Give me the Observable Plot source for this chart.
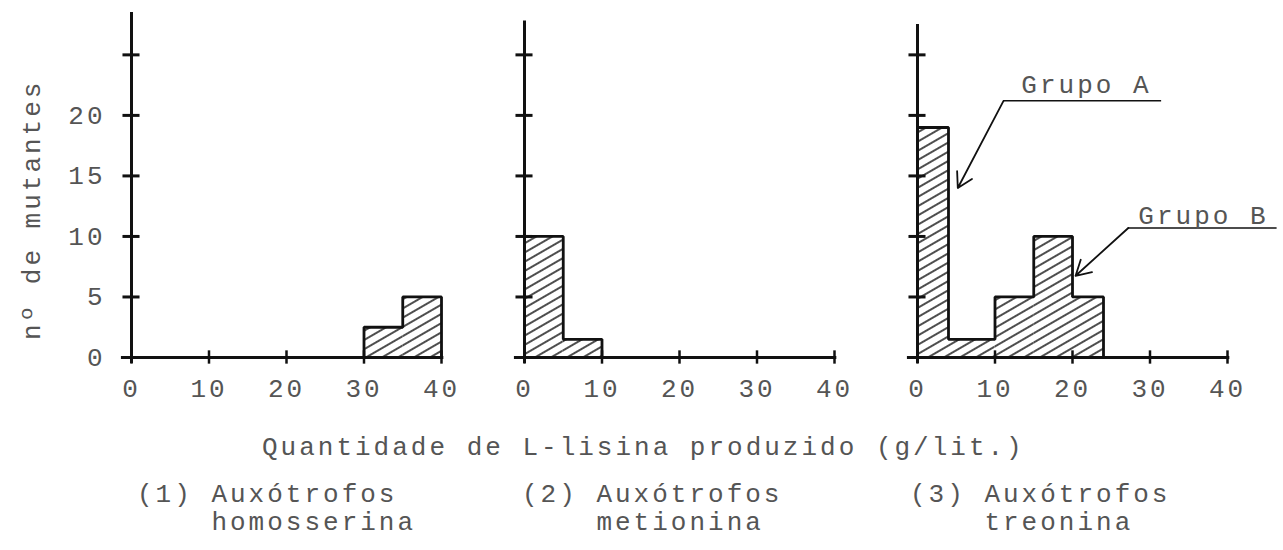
<!DOCTYPE html>
<html>
<head>
<meta charset="utf-8">
<script src="https://cdn.jsdelivr.net/npm/d3@7"></script>
<script src="https://cdn.jsdelivr.net/npm/@observablehq/plot@0.6"></script>
<style>
  html, body { margin: 0; padding: 0; background: #fff; }
  #wrap { position: relative; width: 1283px; height: 550px; font-family: "Liberation Mono", monospace; color: #555; }
  #wrap svg text { letter-spacing: 3px; }
  .t { position: absolute; font-size: 26px; letter-spacing: 3px; line-height: 28px; white-space: pre; }
</style>
</head>
<body>
<div id="wrap">
  <div id="chart"></div>
  <div class="t" style="left:262px; top:434px;">Quantidade de L-lisina produzido (g/lit.)</div>
  <div class="t" style="left:137px; top:481px;">(1) Auxótrofos
    homosserina</div>
  <div class="t" style="left:522px; top:481px;">(2) Auxótrofos
    metionina</div>
  <div class="t" style="left:910px; top:481px;">(3) Auxótrofos
    treonina</div>
</div>
<script>
// ---- data ----
const panels = ["1", "2", "3"];
// (1) homosserina
const binStart1 = [30, 35];
const binEnd1   = [35, 40];
const count1    = [2.5, 5];
// (2) metionina
const binStart2 = [0, 5];
const binEnd2   = [5, 10];
const count2    = [10, 1.5];
// (3) treonina
const binStart3 = [0, 4, 10, 15, 20];
const binEnd3   = [4, 10, 15, 20, 24];
const count3    = [19, 1.5, 5, 10, 5];

const xTicks = [0, 10, 20, 30, 40];
const yTicks = [5, 10, 15, 20, 25];
const yTickLabels = [0, 5, 10, 15, 20];
const axisTop = [28.5, 27.8, 27.5];
const yLabel = "nº de mutantes";

// annotations (panel 3), in data units
const annLabel  = ["Grupo A", "Grupo B"];
const annTextX  = [21.8, 36.9];
const annTextY  = [22.5, 11.7];
const annLineX1 = [11.1, 27.2];
const annLineX2 = [31.5, 46.4];
const annLineY  = [21.2, 10.7];
const annArrowX = [5.2, 20.4];
const annArrowY = [14, 6.75];

// ---- tables ----
const series = [[binStart1, binEnd1, count1], [binStart2, binEnd2, count2], [binStart3, binEnd3, count3]];
const bars = [];
const outline = [];
series.forEach(([s, e, c], i) => {
  const p = panels[i];
  s.forEach((v, j) => bars.push({panel: p, x1: v, x2: e[j], count: c[j]}));
  // stepped outline of the histogram (no inner dividing lines)
  outline.push({panel: p, x: s[0], y: 0});
  s.forEach((v, j) => {
    outline.push({panel: p, x: v, y: c[j]});
    outline.push({panel: p, x: e[j], y: c[j]});
  });
  outline.push({panel: p, x: e[e.length - 1], y: 0});
});
const xTickData = panels.flatMap(p => xTicks.map(v => ({panel: p, v})));
const yTickData = panels.flatMap(p => yTicks.map(v => ({panel: p, v})));
const axisData = panels.map((p, i) => ({panel: p, top: axisTop[i]}));
const ann = annLabel.map((l, i) => ({label: l, textX: annTextX[i], textY: annTextY[i],
  x1: annLineX1[i], x2: annLineX2[i], ly: annLineY[i], ax: annArrowX[i], ay: annArrowY[i]}));

const ink = "#111";
const txt = "#555";

const svg = Plot.plot({
  width: 1283,
  height: 410,
  marginLeft: 130,
  marginRight: 56,
  marginTop: 12,
  marginBottom: 53,
  style: {fontFamily: "Liberation Mono, monospace", fontSize: "26px", background: "#fff"},
  fx: {domain: panels, paddingInner: 0.212, paddingOuter: 0, axis: null},
  x: {domain: [0, 40], axis: null},
  y: {domain: [0, 28.5], axis: null},
  marks: [
    Plot.rectY(bars, {x1: "x1", x2: "x2", y: "count", fx: "panel", fill: "url(#hatch)"}),
    Plot.line(outline, {x: "x", y: "y", z: "panel", fx: "panel", stroke: ink, strokeWidth: 2.8, strokeLinejoin: "miter"}),
    Plot.ruleY(axisData, {y: 0, x1: -1.3, x2: 40.3, fx: "panel", stroke: ink, strokeWidth: 3}),
    Plot.ruleX(axisData, {x: 0, y1: -0.5, y2: "top", fx: "panel", stroke: ink, strokeWidth: 3}),
    Plot.ruleX(xTickData, {x: "v", y1: -0.55, y2: 0.55, fx: "panel", stroke: ink, strokeWidth: 2.5}),
    Plot.ruleY(yTickData, {y: "v", x1: -1.1, x2: 1.1, fx: "panel", stroke: ink, strokeWidth: 3}),
    Plot.text(xTickData, {x: "v", y: 0, dy: 31, text: d => String(d.v), fx: "panel", fontSize: 26, fill: txt}),
    Plot.text(yTickLabels, {x: 0, y: d => d, dx: -26, textAnchor: "end", text: d => String(d), fx: () => "1", fontSize: 26, fill: txt}),
    Plot.text([yLabel], {x: 0, y: 12.2, dx: -100, rotate: -90, text: d => d, fx: () => "1", fontSize: 26, fill: txt}),
    Plot.ruleY(ann, {y: "ly", x1: "x1", x2: "x2", fx: () => "3", stroke: ink, strokeWidth: 1.5}),
    Plot.arrow(ann, {x1: "x1", y1: "ly", x2: "ax", y2: "ay", fx: () => "3", stroke: ink, strokeWidth: 1.8, headLength: 14}),
    Plot.text(ann, {x: "textX", y: "textY", text: "label", fx: () => "3", fontSize: 26, fill: txt})
  ]
});

// hatch pattern
const NS = "http://www.w3.org/2000/svg";
const defs = document.createElementNS(NS, "defs");
const pat = document.createElementNS(NS, "pattern");
pat.setAttribute("id", "hatch");
pat.setAttribute("patternUnits", "userSpaceOnUse");
pat.setAttribute("width", "10");
pat.setAttribute("height", "8");
pat.setAttribute("patternTransform", "rotate(-30)");
const bg = document.createElementNS(NS, "rect");
bg.setAttribute("width", "10"); bg.setAttribute("height", "8"); bg.setAttribute("fill", "#fff");
const ln = document.createElementNS(NS, "line");
ln.setAttribute("x1", "0"); ln.setAttribute("y1", "4"); ln.setAttribute("x2", "10"); ln.setAttribute("y2", "4");
ln.setAttribute("stroke", "#222"); ln.setAttribute("stroke-width", "1.6");
pat.appendChild(bg); pat.appendChild(ln); defs.appendChild(pat);
svg.insertBefore(defs, svg.firstChild);

document.getElementById("chart").appendChild(svg);
</script>
</body>
</html>
